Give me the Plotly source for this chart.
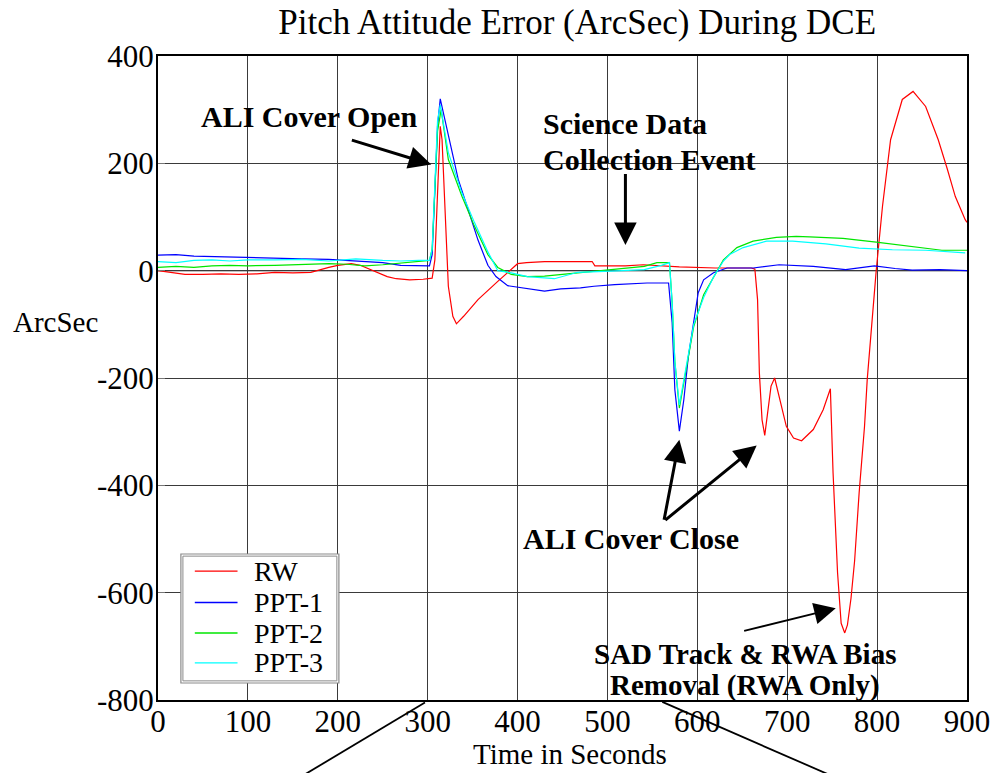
import plotly.graph_objects as go

# ---------------- data ----------------
rw_t = [0, 10, 20, 30, 50, 70, 90, 110, 130, 150, 170, 180, 190, 200, 215, 225, 235, 245, 255, 265,
        280, 295, 305, 308, 311, 314, 316, 319, 323, 328, 332, 340, 356, 378, 390, 400, 410, 430, 460,
        483, 486, 520, 540, 560, 580, 620, 660, 664, 667, 669, 672, 675, 679, 682, 686, 692, 699, 707,
        716, 729, 740, 748, 751, 756, 760, 764, 767, 771, 775, 780, 786, 789, 794, 799, 806, 815, 828,
        840, 854, 868, 878, 887, 898, 900]
rw_v = [0, -2, -5, -7, -7, -6, -7, -6, -3, -4, -3, 2, 6, 10, 13, 10, 3, -5, -11, -15,
        -17, -16, -14, 20, 150, 269, 244, 120, -29, -85, -99, -85, -54, -20, -2, 13, 15, 17, 17,
        17, 9, 9, 11, 9, 7, 5, 5, 3, -54, -190, -278, -307, -253, -215, -200, -240, -290, -312,
        -317, -296, -259, -220, -377, -563, -657, -675, -660, -610, -540, -414, -290, -203, -97, 0, 120, 244, 319,
        334, 306, 244, 190, 138, 95, 90]

ppt1_t = [0, 20, 40, 60, 80, 100, 130, 160, 190, 220, 250, 270, 290, 302, 305, 308, 311, 314, 318,
          323, 334, 345, 356, 367, 376, 389, 411, 430, 448, 470, 485, 508, 544, 568, 572, 575, 580,
          585, 590, 596, 601, 607, 618, 633, 662, 691, 710, 729, 765, 797, 820, 839, 870, 898, 900]
ppt1_v = [29, 30, 27, 26, 25, 24, 23, 22, 21, 18, 15, 10, 9, 9, 30, 150, 270, 320, 290,
          250, 170, 114, 57, 10, -11, -28, -34, -38, -34, -32, -29, -26, -23, -23, -97, -222, -299,
          -240, -160, -97, -41, -17, -4, 5, 5, 11, 10, 8, 2, 9, 4, 1, 2, -1, 0]

ppt2_t = [0, 20, 40, 60, 80, 100, 130, 160, 190, 210, 230, 250, 270, 290, 302, 305, 308, 311, 315,
          319, 323, 338, 352, 367, 378, 393, 411, 430, 448, 467, 504, 541, 555, 569, 572, 575, 580,
          588, 596, 607, 618, 629, 644, 662, 688, 710, 725, 762, 799, 835, 872, 900]
ppt2_v = [6, 8, 6, 9, 10, 9, 10, 11, 13, 12, 9, 11, 14, 17, 19, 40, 150, 260, 300,
          250, 207, 139, 83, 30, 6, -7, -11, -10, -7, -4, 2, 8, 15, 15, -60, -170, -256,
          -178, -104, -45, -12, 20, 43, 55, 62, 64, 63, 60, 53, 45, 38, 38]

ppt3_t = [0, 20, 40, 60, 80, 100, 130, 160, 190, 220, 250, 270, 290, 302, 305, 308, 311, 314, 318,
          323, 338, 352, 367, 378, 393, 411, 441, 467, 504, 541, 560, 569, 572, 575, 580, 588, 596,
          607, 618, 629, 636, 651, 677, 706, 743, 780, 817, 854, 898]
ppt3_v = [17, 15, 19, 20, 18, 20, 20, 21, 18, 22, 19, 18, 19, 19, 40, 160, 280, 309, 270,
          220, 145, 90, 35, 0, -4, -11, -15, -3, -1, 2, 10, 15, -60, -170, -250, -175, -100,
          -50, -12, 18, 30, 43, 55, 55, 50, 42, 39, 38, 33]

series_names = ["RW", "PPT-1", "PPT-2", "PPT-3"]
series_colors = ["#ff0000", "#0000ff", "#00e600", "#00ffff"]

x_ticks = [0, 100, 200, 300, 400, 500, 600, 700, 800, 900]
x_ticktext = ["0", "100", "200", "300", "400", "500", "600", "700", "800", "900"]
y_ticks = [-800, -600, -400, -200, 0, 200, 400]
y_ticktext = ["-800", "-600", "-400", "-200", "0", "200", "400"]

FONT = "Liberation Serif"

fig = go.Figure()
for name, t, v, c in zip(series_names, [rw_t, ppt1_t, ppt2_t, ppt3_t],
                         [rw_v, ppt1_v, ppt2_v, ppt3_v], series_colors):
    fig.add_trace(go.Scatter(x=t, y=v, mode="lines", name=name,
                             line=dict(color=c, width=1.2)))

axis_common = dict(showline=True, linecolor="black", linewidth=2, mirror=True,
                   showgrid=True, gridcolor="#3a3a3a", gridwidth=1,
                   zeroline=False, tickfont=dict(family=FONT, size=31, color="black"))

fig.update_xaxes(range=[0, 900], tickvals=x_ticks, ticktext=x_ticktext, ticks="",
                 ticklabelstandoff=-7, **axis_common)
fig.update_yaxes(range=[-800, 400], tickvals=y_ticks, ticktext=y_ticktext, ticks="inside",
                 ticklen=7, tickcolor="#777", ticklabelstandoff=-4, **axis_common)

# zero line
fig.add_hline(y=0, line=dict(color="black", width=1.3), layer="below")

# text labels
labels = [
    dict(text="<b>ALI Cover Open</b>", x=168, y=287, xanchor="center", size=30),
    dict(text="<b>Science Data</b>", x=426, y=274, xanchor="left", size=30),
    dict(text="<b>Collection Event</b>", x=426, y=207, xanchor="left", size=30),
    dict(text="<b>ALI Cover Close</b>", x=526.5, y=-499, xanchor="center", size=30),
    dict(text="<b>SAD Track &amp; RWA Bias</b>", x=652.7, y=-714, xanchor="center", size=29),
    dict(text="<b>Removal (RWA Only)</b>", x=652.7, y=-773, xanchor="center", size=29),
]
for lb in labels:
    fig.add_annotation(text=lb["text"], x=lb["x"], y=lb["y"], xref="x", yref="y",
                       xanchor=lb["xanchor"], yanchor="middle", showarrow=False,
                       font=dict(family=FONT, size=lb["size"], color="black"))

# arrows: (head x, head y, tail x, tail y, width)
arrows = [
    (304, 198, 214, 244, 3),
    (520, 48, 520, 183, 3),
    (580, -315, 562.7, -467, 3),
    (666, -326, 562.7, -467, 3),
    (754, -629, 650.4, -672, 1.8),
]
for hx, hy, tx, ty, w in arrows:
    fig.add_annotation(x=hx, y=hy, ax=tx, ay=ty, xref="x", yref="y", axref="x", ayref="y",
                       text="", showarrow=True, arrowhead=2, arrowsize=1.5 if w > 2 else 2.4,
                       arrowwidth=w, arrowcolor="black")

# pointer lines below the axis
fig.add_shape(type="line", xref="x", yref="paper", x0=297, y0=-0.004, x1=164, y1=-0.115,
              line=dict(color="black", width=1.8))
fig.add_shape(type="line", xref="x", yref="paper", x0=561, y0=-0.003, x1=745, y1=-0.115,
              line=dict(color="black", width=1.8))

# axis titles
fig.add_annotation(text="ArcSec", xref="paper", yref="paper", x=-0.1265, y=0.587,
                   showarrow=False, xanchor="center", yanchor="middle",
                   font=dict(family=FONT, size=29, color="black"))
fig.add_annotation(text="Time in Seconds", xref="paper", yref="paper", x=0.509, y=-0.084,
                   showarrow=False, xanchor="center", yanchor="middle",
                   font=dict(family=FONT, size=29, color="black"))

# hand-built legend box (paper coordinates)
leg_x0, leg_x1, leg_y0, leg_y1 = 0.0283, 0.2236, 0.0264, 0.2267
fig.add_shape(type="rect", xref="paper", yref="paper", x0=leg_x0, x1=leg_x1, y0=leg_y0, y1=leg_y1,
              fillcolor="white", line=dict(color="#8a8a8a", width=1.2))
fig.add_shape(type="rect", xref="paper", yref="paper", x0=leg_x0 + 0.0025, x1=leg_x1 - 0.0025,
              y0=leg_y0 + 0.0033, y1=leg_y1 - 0.0033, line=dict(color="#8a8a8a", width=1))
row_y = [0.200, 0.1514, 0.104, 0.0575]
for name, c, ry in zip(series_names, series_colors, row_y):
    fig.add_shape(type="line", xref="paper", yref="paper", x0=0.0455, x1=0.0983, y0=ry, y1=ry,
                  line=dict(color=c, width=1.3))
    fig.add_annotation(text=name, xref="paper", yref="paper", x=0.1167, y=ry, xanchor="left",
                       yanchor="middle", showarrow=False,
                       font=dict(family=FONT, size=28, color="black"))

fig.update_layout(
    width=1002, height=773,
    margin=dict(l=158, r=30, t=56, b=73),
    paper_bgcolor="white", plot_bgcolor="white",
    title=dict(text="Pitch Attitude Error (ArcSec) During DCE", x=0.576, xanchor="center",
               y=0.972, yanchor="middle", font=dict(family=FONT, size=35, color="black")),
    showlegend=False,
)

fig.write_html("out.html")
